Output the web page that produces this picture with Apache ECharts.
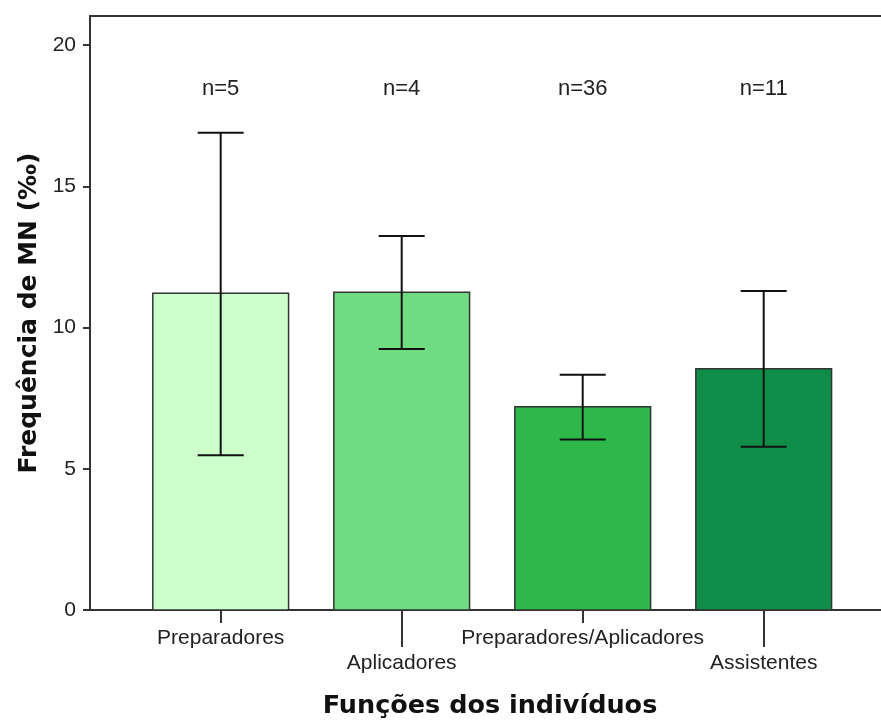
<!DOCTYPE html>
<html>
<head>
<meta charset="utf-8">
<script src="https://cdn.jsdelivr.net/npm/echarts@6/dist/echarts.min.js"></script>
<style>html,body{margin:0;padding:0;background:#fff}#c{width:881px;height:724px}</style>
</head>
<body>
<div id="c"></div>
<script>
const categories = ['Preparadores', 'Aplicadores', 'Preparadores/Aplicadores', 'Assistentes'];
const means = [11.21, 11.25, 7.20, 8.54];
const upper = [16.90, 13.24, 8.33, 11.29];
const lower = [5.48, 9.24, 6.04, 5.78];
const counts = ['n=5', 'n=4', 'n=36', 'n=11'];
const colors = ['#ccffcc', '#70dc82', '#2fb84a', '#0f8c48'];
const yTicks = [0, 5, 10, 15, 20];

const chart = echarts.init(document.getElementById('c'));
const xMin = -0.722, xMax = 3.648;
const yMax = 21.03;
const LBL = {fontFamily: 'Liberation Sans', fontSize: 21, color: '#222'};

function xAxisCfg(values, tickLen, margin, show) {
  return {
    type: 'value', position: 'bottom', min: xMin, max: xMax,
    axisLine: {show: show, onZero: false, lineStyle: {color: '#333', width: 2}},
    splitLine: {show: false},
    axisTick: {show: true, customValues: values, length: tickLen, lineStyle: {color: '#333', width: 2}},
    axisLabel: Object.assign({show: true, customValues: values, margin: margin,
      formatter: v => categories[Math.round(v)] || ''}, LBL)
  };
}

const option = {
  animation: false,
  grid: {left: 90, right: 0, top: 16, bottom: 114},
  xAxis: [
    xAxisCfg([0, 2], 13, 18, true),
    xAxisCfg([1, 3], 37, 43, false),
    {type: 'value', position: 'top', min: xMin, max: xMax,
     axisLine: {show: true, onZero: false, lineStyle: {color: '#333', width: 2}},
     axisTick: {show: false}, axisLabel: {show: false}, splitLine: {show: false}}
  ],
  yAxis: {
    type: 'value', min: 0, max: yMax,
    name: 'Frequência de MN (‰)', nameLocation: 'middle', nameGap: 48,
    nameTextStyle: {fontFamily: 'DejaVu Sans', fontWeight: 'bold', fontSize: 25, color: '#111'},
    axisLine: {show: true, onZero: false, lineStyle: {color: '#333', width: 2}},
    axisTick: {show: true, customValues: yTicks, length: 7, lineStyle: {color: '#333', width: 2}},
    axisLabel: Object.assign({customValues: yTicks, margin: 14}, LBL),
    splitLine: {show: false}
  },
  graphic: [{
    type: 'text', x: 490, y: 706,
    style: {text: 'Funções dos indivíduos', align: 'center', verticalAlign: 'middle',
      font: 'bold 25.5px "DejaVu Sans"', fill: '#111'}
  }],
  series: [{
    type: 'custom',
    data: categories.map((c, i) => [i, means[i], upper[i], lower[i]]),
    renderItem: function (params, api) {
      const i = api.value(0);
      const half = 0.375;
      const tl = api.coord([i - half, api.value(1)]);
      const br = api.coord([i + half, 0]);
      const top = api.coord([i, api.value(2)]);
      const bot = api.coord([i, api.value(3)]);
      const capHalf = 23;
      const ls = {stroke: '#111', lineWidth: 2};
      return {
        type: 'group',
        children: [
          {type: 'rect', shape: {x: tl[0], y: tl[1], width: br[0] - tl[0], height: br[1] - tl[1]},
           style: {fill: colors[i], stroke: '#333', lineWidth: 1.5}},
          {type: 'line', shape: {x1: top[0], y1: top[1], x2: bot[0], y2: bot[1]}, style: ls},
          {type: 'line', shape: {x1: top[0] - capHalf, y1: top[1], x2: top[0] + capHalf, y2: top[1]}, style: ls},
          {type: 'line', shape: {x1: bot[0] - capHalf, y1: bot[1], x2: bot[0] + capHalf, y2: bot[1]}, style: ls}
        ]
      };
    }
  }, {
    type: 'custom',
    data: categories.map((c, i) => [i, 18.44]),
    renderItem: function (params, api) {
      const i = api.value(0);
      const p = api.coord([i, api.value(1)]);
      return {type: 'text', x: p[0], y: p[1],
        style: {text: counts[i], align: 'center', verticalAlign: 'middle',
          font: '22px "Liberation Sans"', fill: '#222'}};
    }
  }]
};
chart.setOption(option);
</script>
</body>
</html>
